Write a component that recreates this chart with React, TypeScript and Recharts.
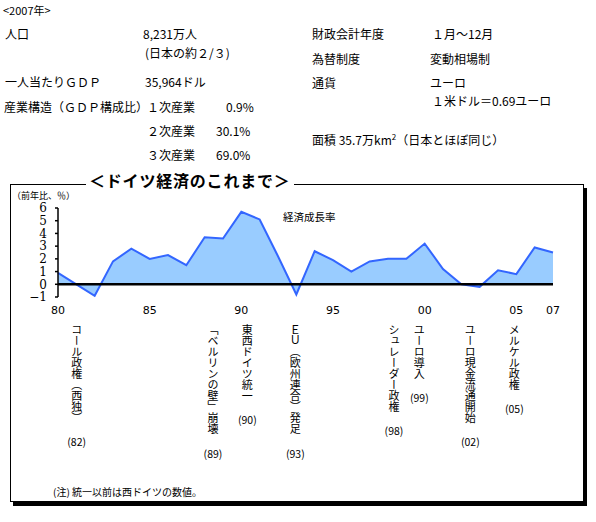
import {
  AreaChart,
  Area,
  XAxis,
  YAxis,
  ReferenceLine,
} from "recharts";

const years = [
  1980, 1981, 1982, 1983, 1984, 1985, 1986, 1987, 1988, 1989, 1990, 1991, 1992, 1993,
  1994, 1995, 1996, 1997, 1998, 1999, 2000, 2001, 2002, 2003, 2004, 2005, 2006, 2007,
];
const growth = [
  0.9, 0.0, -0.9, 1.8, 2.8, 2.0, 2.3, 1.5, 3.7, 3.6, 5.7, 5.1, 2.2, -0.8,
  2.6, 1.9, 1.0, 1.8, 2.0, 2.0, 3.2, 1.2, 0.0, -0.2, 1.1, 0.8, 2.9, 2.5,
];
const xTicks = [1980, 1985, 1990, 1995, 2000, 2005, 2007];
const yTicks = [-1, 0, 1, 2, 3, 4, 5, 6];

const eventYears = [1982, 1989, 1990, 1993, 1998, 1999, 2002, 2005];
const eventTexts = [
  "コール政権（西独）",
  "「ベルリンの壁」崩壊",
  "東西ドイツ統一",
  "ＥＵ（欧州連合）発足",
  "シュレーダー政権",
  "ユーロ導入",
  "ユーロ現金流通開始",
  "メルケル政権",
];
const eventTags = ["(82)", "(89)", "(90)", "(93)", "(98)", "(99)", "(02)", "(05)"];

// horizontal nudges of the vertical captions (px), layout only
const captionShift = [-18, -10, 6, -1, 6, 13, 9, -2];

const data = years.map((y, i) => ({ year: y, value: growth[i] }));

const jp = '"Noto Sans CJK JP", sans-serif';

const EventLabel = (props: any) => {
  const { viewBox, index } = props;
  const cx = viewBox.x + captionShift[index];
  const top = viewBox.y + viewBox.height + 27;
  const text = eventTexts[index];
  const pitch = 11.2;
  const tagY = top + text.length * pitch + 17;
  return (
    <g>
      <text
        x={cx}
        y={top}
        fontSize={11}
        fontFamily={jp}
        fill="#000"
        style={{ writingMode: "vertical-rl" } as any}
      >
        {text}
      </text>
      <text
        x={cx}
        y={tagY}
        fontSize={10.5}
        fontFamily={jp}
        fill="#000"
        textAnchor="middle"
        dominantBaseline="central"
      >
        {eventTags[index]}
      </text>
    </g>
  );
};

const Info = ({ x, y, children, size = 12, lh = 16 }: any) => (
  <div
    style={{
      position: "absolute",
      left: x,
      top: y - lh / 2,
      lineHeight: `${lh}px`,
      fontSize: size,
      fontFamily: jp,
      whiteSpace: "nowrap",
      color: "#000",
    }}
  >
    {children}
  </div>
);

export default function App() {
  return (
    <div style={{ position: "absolute", left: 0, top: 0, width: 596, height: 522, background: "#fff" }}>
      <Info x={3} y={10} size={11}>&lt;2007年&gt;</Info>
      <Info x={5} y={34}>人口</Info>
      <Info x={143} y={34}>8,231万人</Info>
      <Info x={145} y={53}>(日本の約２/３)</Info>
      <Info x={5} y={82}>一人当たりＧＤＰ</Info>
      <Info x={145} y={82}>35,964ドル</Info>
      <Info x={4} y={107}>産業構造（ＧＤＰ構成比）</Info>
      <Info x={147} y={107}>１次産業</Info>
      <Info x={226} y={107}>0.9%</Info>
      <Info x={147} y={131}>２次産業</Info>
      <Info x={216} y={131}>30.1%</Info>
      <Info x={147} y={155}>３次産業</Info>
      <Info x={216} y={155}>69.0%</Info>

      <Info x={312} y={34}>財政会計年度</Info>
      <Info x={432} y={34}>１月～12月</Info>
      <Info x={312} y={59}>為替制度</Info>
      <Info x={430} y={59}>変動相場制</Info>
      <Info x={312} y={83}>通貨</Info>
      <Info x={430} y={83}>ユーロ</Info>
      <Info x={432} y={101}>１米ドル＝0.69ユーロ</Info>
      <Info x={312} y={137}>
        面積 35.7万km<sup style={{ fontSize: 8 }}>2</sup>（日本とほぼ同じ）
      </Info>

      <div
        style={{
          position: "absolute",
          left: 10,
          top: 184,
          width: 572,
          height: 316,
          border: "1px solid #000",
          boxShadow: "3px 4px 0 #000",
        }}
      />

      <div style={{ position: "absolute", left: 0, top: 184 }}>
        <AreaChart
          width={596}
          height={320}
          data={data}
          margin={{ top: 24, right: 43, bottom: 187, left: 0 }}
        >
          <XAxis
            dataKey="year"
            type="number"
            domain={[1980, 2007]}
            ticks={xTicks}
            tickFormatter={(v: number) => String(v).slice(2)}
            axisLine={false}
            tickLine={false}
            height={20}
            tick={{ fontSize: 11, fill: "#000", fontFamily: "DejaVu Sans" }}
            tickMargin={3}
          />
          <YAxis
            type="number"
            domain={[-1, 6]}
            ticks={yTicks}
            width={58}
            interval={0}
            tickFormatter={(v: number) => (v < 0 ? `−${-v}` : String(v))}
            axisLine={{ stroke: "#000", strokeWidth: 1.5 }}
            tickLine={{ stroke: "#000", strokeWidth: 1.5 }}
            tickSize={3}
            tickMargin={8}
            tick={{ fontSize: 12, fill: "#000", fontFamily: "DejaVu Serif" }}
          />
          <Area
            type="linear"
            dataKey="value"
            baseValue={0}
            stroke="#3366ff"
            strokeWidth={2}
            fill="#99ccff"
            fillOpacity={1}
            isAnimationActive={false}
            dot={false}
            activeDot={false}
          />
          <ReferenceLine y={0} stroke="#000" strokeWidth={2.5} />
          {eventYears.map((yr, i) => (
            <ReferenceLine
              key={yr}
              x={yr}
              stroke="none"
              label={(p: any) => <EventLabel {...p} index={i} />}
            />
          ))}
        </AreaChart>
      </div>

      <div
        style={{
          position: "absolute",
          left: 86,
          top: 170,
          padding: "0 3px",
          background: "#fff",
          fontFamily: jp,
          fontWeight: 700,
          fontSize: 16,
          lineHeight: "20px",
          letterSpacing: 0.8,
        }}
      >
        ＜ドイツ経済のこれまで＞
      </div>
      <Info x={12} y={196} size={9} lh={10}>（前年比、％）</Info>
      <Info x={283} y={217} size={10.5}>経済成長率</Info>
      <Info x={53} y={492} size={10}>(注) 統一以前は西ドイツの数値。</Info>
    </div>
  );
}
